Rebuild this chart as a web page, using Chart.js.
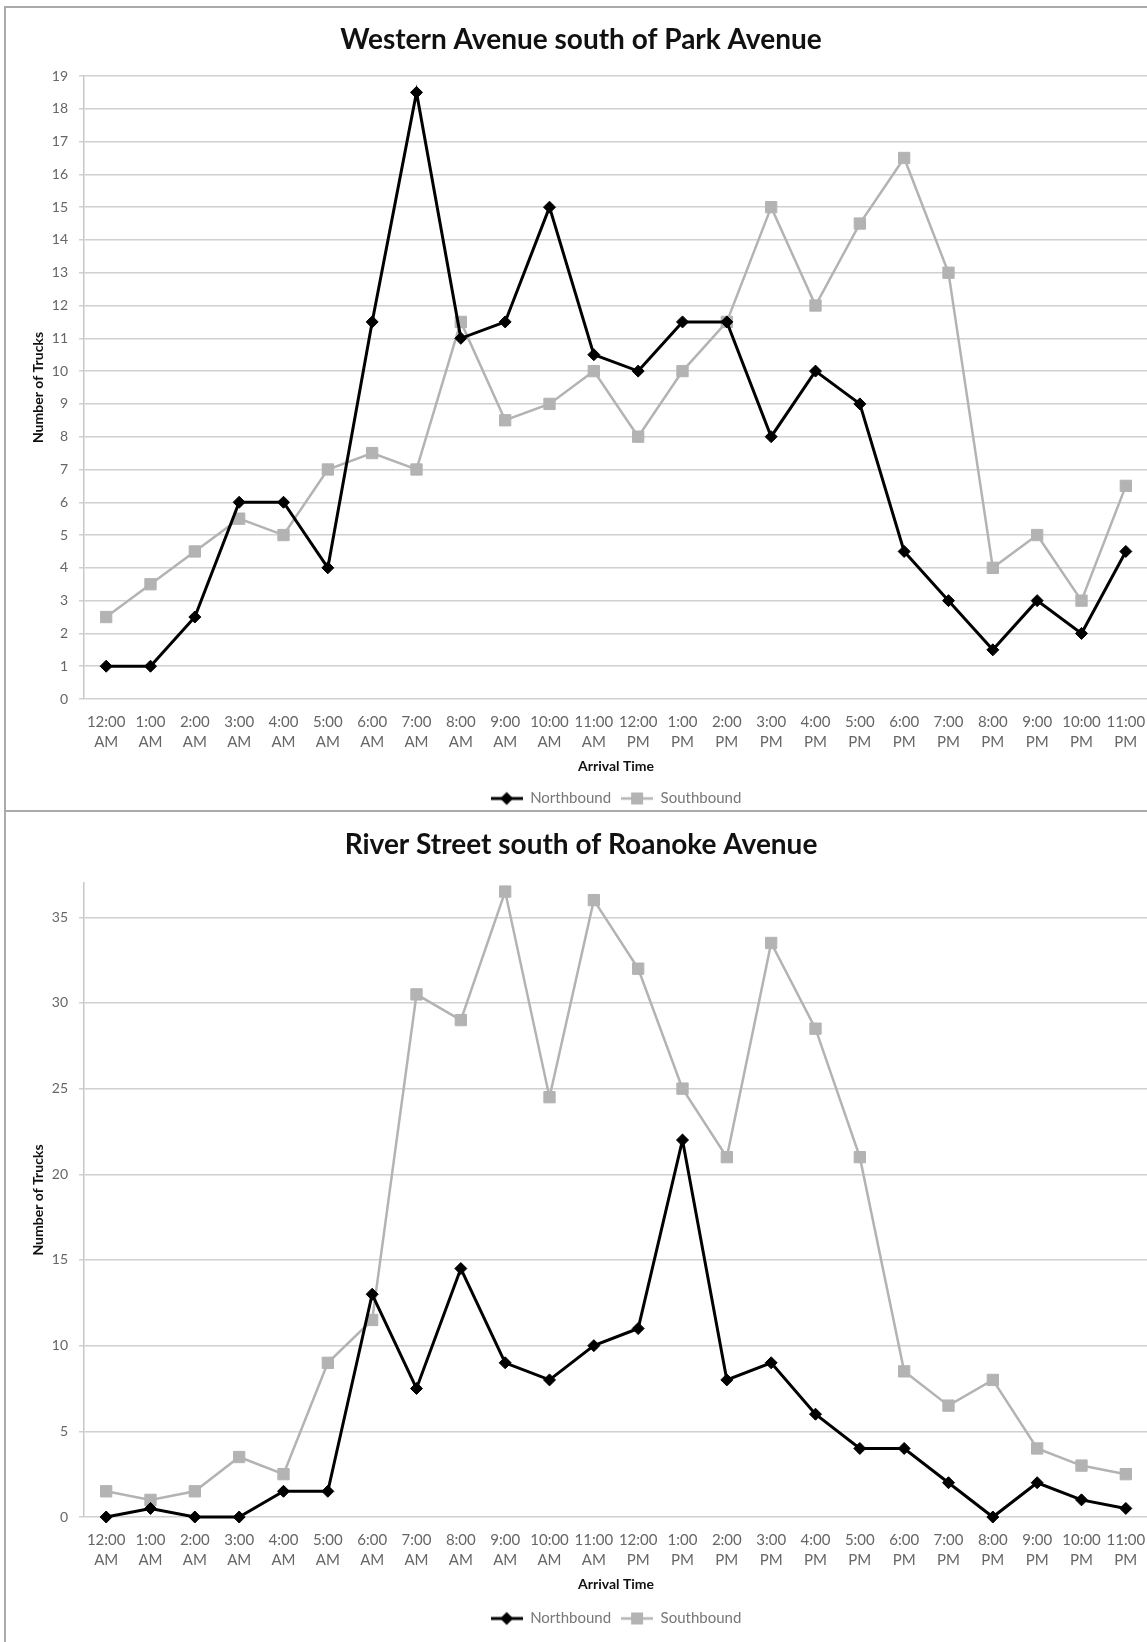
<!DOCTYPE html>
<html>
<head>
<meta charset="utf-8">
<title>Truck arrivals</title>
<script src="https://cdn.jsdelivr.net/npm/chart.js@4.4.1/dist/chart.umd.min.js"></script>
<style>
  html, body { margin: 0; padding: 0; background: #fff; overflow: hidden; }
  body { width: 1147px; height: 1642px; position: relative; }
  .frame { position: absolute; box-sizing: border-box; border: 2px solid #aaa; border-right: none; }
  #frame1 { left: 4px; top: 6px; width: 1200px; height: 806px; }
  #frame2 { left: 4px; top: 812px; width: 1200px; height: 840px; border-top: none; border-bottom: none; }
  canvas { position: absolute; left: 0; }
</style>
</head>
<body>
<div class="frame" id="frame1"></div>
<div class="frame" id="frame2"></div>
<canvas id="western" width="1162" height="816" style="top:0"></canvas>
<canvas id="river" width="1162" height="824" style="top:812px"></canvas>
<script>
// categories
const hours = ['12:00','1:00','2:00','3:00','4:00','5:00','6:00','7:00','8:00','9:00','10:00','11:00',
               '12:00','1:00','2:00','3:00','4:00','5:00','6:00','7:00','8:00','9:00','10:00','11:00'];
const periods = ['AM','AM','AM','AM','AM','AM','AM','AM','AM','AM','AM','AM',
                 'PM','PM','PM','PM','PM','PM','PM','PM','PM','PM','PM','PM'];
const timeLabels = hours.map((h, i) => [h, periods[i]]);

// Western Avenue south of Park Avenue
const westernNorth = [1, 1, 2.5, 6, 6, 4, 11.5, 18.5, 11, 11.5, 15, 10.5, 10, 11.5, 11.5, 8, 10, 9, 4.5, 3, 1.5, 3, 2, 4.5];
const westernSouth = [2.5, 3.5, 4.5, 5.5, 5, 7, 7.5, 7, 11.5, 8.5, 9, 10, 8, 10, 11.5, 15, 12, 14.5, 16.5, 13, 4, 5, 3, 6.5];

// River Street south of Roanoke Avenue
const riverNorth = [0, 0.5, 0, 0, 1.5, 1.5, 13, 7.5, 14.5, 9, 8, 10, 11, 22, 8, 9, 6, 4, 4, 2, 0, 2, 1, 0.5];
const riverSouth = [1.5, 1, 1.5, 3.5, 2.5, 9, 11.5, 30.5, 29, 36.5, 24.5, 36, 32, 25, 21, 33.5, 28.5, 21, 8.5, 6.5, 8, 4, 3, 2.5];

const NORTH_COLOR = '#000000';
const SOUTH_COLOR = '#b3b3b3';

Chart.defaults.font.family = "Lato, 'Open Sans', sans-serif";
Chart.defaults.color = '#666';

// little line + marker picture for the legend
function legendIcon(color, shape) {
  const c = document.createElement('canvas');
  c.width = 32; c.height = 16;
  const g = c.getContext('2d');
  g.strokeStyle = color;
  g.fillStyle = color;
  g.lineWidth = shape === 'diamond' ? 3 : 2.5;
  g.beginPath(); g.moveTo(0, 8); g.lineTo(32, 8); g.stroke();
  g.beginPath();
  if (shape === 'diamond') {
    g.moveTo(16, 1.5); g.lineTo(22.5, 8); g.lineTo(16, 14.5); g.lineTo(9.5, 8);
  } else {
    g.rect(10, 2, 12, 12);
  }
  g.closePath(); g.fill();
  return c;
}
const icons = [legendIcon(NORTH_COLOR, 'diamond'), legendIcon(SOUTH_COLOR, 'square')];

function makeChart(id, titleText, north, south, yMax, yStep, L) {
  return new Chart(document.getElementById(id), {
    type: 'line',
    data: {
      labels: timeLabels,
      datasets: [{
        label: 'Northbound',
        data: north,
        borderColor: NORTH_COLOR,
        backgroundColor: NORTH_COLOR,
        borderWidth: 3,
        pointStyle: 'rectRot',
        pointRadius: 6,
        pointBorderWidth: 1,
        tension: 0,
        clip: false
      }, {
        label: 'Southbound',
        data: south,
        borderColor: SOUTH_COLOR,
        backgroundColor: SOUTH_COLOR,
        borderWidth: 2.5,
        pointStyle: 'rect',
        pointRadius: 8,
        pointBorderWidth: 1,
        tension: 0,
        clip: false
      }]
    },
    options: {
      responsive: false,
      animation: false,
      layout: { padding: { left: 14, right: 14, top: 0, bottom: 0 } },
      plugins: {
        title: {
          display: true,
          text: titleText,
          color: '#111',
          font: { size: 28, weight: 'bold', lineHeight: 1.2 },
          padding: { top: L.titleTop, bottom: L.titleBottom }
        },
        legend: {
          position: 'bottom',
          fullSize: false,
          labels: {
            usePointStyle: true,
            pointStyleWidth: 32,
            padding: 10,
            color: '#777',
            font: { size: 15 },
            generateLabels: chart => chart.data.datasets.map((ds, i) => ({
              text: ds.label,
              pointStyle: icons[i],
              fillStyle: ds.borderColor,
              strokeStyle: ds.borderColor,
              lineWidth: 0,
              hidden: false,
              datasetIndex: i,
              fontColor: '#777'
            }))
          }
        },
        tooltip: { enabled: false }
      },
      scales: {
        x: {
          offset: true,
          grid: { display: false, drawTicks: false },
          border: { display: false },
          ticks: { color: '#666', font: { size: 15, lineHeight: '20px' }, padding: 13, maxRotation: 0, autoSkip: false },
          title: {
            display: true, text: 'Arrival Time', color: '#111',
            font: { size: 14, weight: 'bold', lineHeight: 1.2 },
            padding: { top: 0, bottom: L.xTitleBottom }
          },
          afterFit: s => { s.height = L.xHeight; }
        },
        y: {
          min: 0,
          max: yMax,
          ticks: { stepSize: yStep, color: '#666', font: { size: 14 }, padding: 11 },
          afterBuildTicks: s => { s.ticks = s.ticks.filter(t => t.value % yStep === 0); },
          grid: { color: '#d0d0d0', lineWidth: 1.5, tickLength: 5 },
          border: { display: true, color: '#c8c8c8', width: 1.5 },
          title: {
            display: true, text: 'Number of Trucks', color: '#111',
            font: { size: 14, weight: 'bold', lineHeight: 1.2 },
            padding: { top: 16, bottom: 0 }
          },
          afterFit: s => { s.width = 70; }
        }
      }
    }
  });
}

makeChart('western', 'Western Avenue south of Park Avenue', westernNorth, westernSouth, 19, 1,
  { titleTop: 23, titleBottom: 19.4, xHeight: 82, xTitleBottom: 6 });
makeChart('river', 'River Street south of Roanoke Avenue', riverNorth, riverSouth, 37, 5,
  { titleTop: 16, titleBottom: 21.4, xHeight: 84, xTitleBottom: 8 });
</script>
</body>
</html>
